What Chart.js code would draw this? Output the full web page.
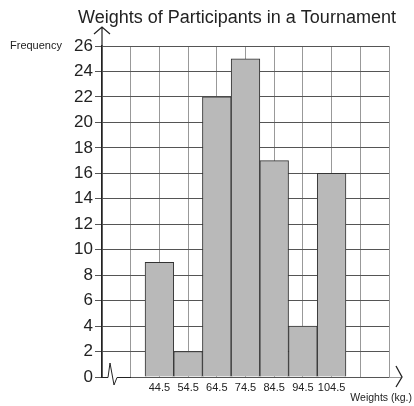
<!DOCTYPE html>
<html lang="en">
<head>
  <meta charset="UTF-8">
  <title>Weights of Participants in a Tournament</title>
  <script src="https://cdn.jsdelivr.net/npm/chart.js"></script>
  <style>
    html, body { margin: 0; padding: 0; background: #fff; }
  </style>
</head>
<body>
  <canvas id="histChart" width="414" height="406"></canvas>
  <script>
    // Data
    const titleText = 'Weights of Participants in a Tournament';
    const yAxisLabel = 'Frequency';
    const xAxisLabel = 'Weights (kg.)';
    const classMarks = ['44.5', '54.5', '64.5', '74.5', '84.5', '94.5', '104.5'];
    const frequencies = [9, 2, 22, 25, 17, 4, 16];
    const yMax = 26;
    const yStep = 2;
    const gridColumns = 10;   // squares across the grid
    const firstColumn = 2;    // grid line the first bar is centred on

    const fontFamily = '"Liberation Sans", Arial, Helvetica, sans-serif';
    const ink = '#222';

    // Title, axis captions, arrow heads and the axis break
    const decorPlugin = {
      id: 'decor',
      afterDraw(chart) {
        const { ctx, chartArea, scales } = chart;
        const left = chartArea.left;
        const right = chartArea.right;
        const top = chartArea.top;
        const y0 = scales.y.getPixelForValue(0);

        ctx.save();
        ctx.fillStyle = ink;
        ctx.textBaseline = 'alphabetic';

        ctx.font = '18px ' + fontFamily;
        ctx.textAlign = 'center';
        ctx.fillText(titleText, 237, 23);

        ctx.font = '11px ' + fontFamily;
        ctx.textAlign = 'left';
        ctx.textBaseline = 'middle';
        ctx.fillText(yAxisLabel, 10, top);

        ctx.font = '10.5px ' + fontFamily;
        ctx.textAlign = 'right';
        ctx.fillText(xAxisLabel, 412, 398);

        ctx.strokeStyle = ink;
        ctx.lineWidth = 1.2;

        // y axis arrow
        ctx.beginPath();
        ctx.moveTo(left, top);
        ctx.lineTo(left, top - 19);
        ctx.moveTo(left - 8, top - 12);
        ctx.lineTo(left, top - 19);
        ctx.lineTo(left + 8, top - 12);
        ctx.stroke();

        // x axis arrow
        ctx.beginPath();
        ctx.lineWidth = 1;
        ctx.strokeStyle = '#999';
        ctx.moveTo(right, y0 + 0.5);
        ctx.lineTo(right + 12, y0 + 0.5);
        ctx.stroke();
        ctx.beginPath();
        ctx.strokeStyle = ink;
        ctx.lineWidth = 1.3;
        ctx.moveTo(right + 7, y0 - 11);
        ctx.lineTo(right + 13, y0);
        ctx.lineTo(right + 7, y0 + 10);
        ctx.stroke();

        // axis break near the origin
        ctx.fillStyle = '#fff';
        ctx.fillRect(left + 2, y0 - 2, 17, 4);
        ctx.beginPath();
        ctx.lineWidth = 1;
        ctx.moveTo(left, y0 + 0.5);
        ctx.lineTo(left + 6, y0 + 0.5);
        ctx.lineTo(left + 8, y0 - 14);
        ctx.lineTo(left + 12, y0 + 8);
        ctx.lineTo(left + 15, y0 + 0.5);
        ctx.lineTo(left + 29, y0 + 0.5);
        ctx.stroke();

        ctx.restore();
      },
    };

    const ctx = document.getElementById('histChart').getContext('2d');

    const histChart = new Chart(ctx, {
      type: 'bar',
      data: {
        datasets: [
          {
            label: 'Frequency',
            data: frequencies.map((f, i) => ({ x: i + firstColumn, y: f })),
            backgroundColor: '#b9b9b9',
            borderColor: '#333',
            borderWidth: 1,
            barPercentage: 1,
            categoryPercentage: 1,
          },
        ],
      },
      options: {
        responsive: false,
        animation: false,
        devicePixelRatio: 1,
        layout: {
          padding: { top: 46, right: 25, bottom: 0, left: 0 },
        },
        scales: {
          x: {
            type: 'linear',
            min: 0,
            max: gridColumns,
            offset: false,
            afterFit: (scale) => { scale.height = 29; },
            ticks: {
              stepSize: 1,
              autoSkip: false,
              maxRotation: 0,
              padding: 4,
              color: ink,
              font: { family: fontFamily, size: 11 },
              callback: (v) => classMarks[v - firstColumn] ?? '',
            },
            grid: { color: '#999', drawTicks: false, lineWidth: 1, offset: false },
            border: { display: false },
          },
          y: {
            min: 0,
            max: yMax,
            afterFit: (scale) => { scale.width = 102; },
            ticks: {
              stepSize: yStep,
              padding: 2,
              color: ink,
              font: { family: fontFamily, size: 17 },
            },
            grid: { color: '#555', tickLength: 7, lineWidth: 1 },
            border: { color: ink, width: 1.5 },
          },
        },
        plugins: {
          legend: { display: false },
          title: { display: false },
          tooltip: { enabled: false },
        },
      },
      plugins: [decorPlugin],
    });
  </script>
</body>
</html>
